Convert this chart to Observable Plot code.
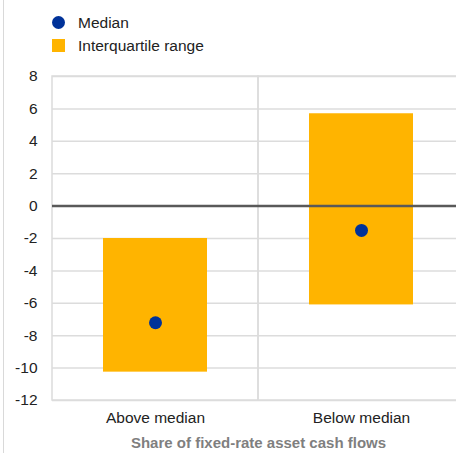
<!DOCTYPE html>
<html>
<head>
<meta charset="utf-8">
<script src="https://cdn.jsdelivr.net/npm/d3@7"></script>
<script src="https://cdn.jsdelivr.net/npm/@observablehq/plot@0.6"></script>
<style>
  html, body { margin: 0; padding: 0; background: #fff; overflow: hidden; }
  #wrap { position: relative; width: 456px; height: 453px; overflow: hidden; font-family: "Liberation Sans", Arial, sans-serif; }
  #border { position: absolute; left: 3px; top: 0; width: 1px; height: 453px; background: #d9d9d9; }
  #legend { position: relative; height: 62px; }
  .item { position: absolute; left: 52px; font-size: 15.5px; color: #222; }
  .sw { position: absolute; width: 13px; height: 13px; }
  .lab { position: absolute; left: 26px; white-space: nowrap; line-height: 15px; }
  #chart { position: absolute; top: 62px; left: 0; width: 464px; }
  #chart svg { max-width: none !important; }
</style>
</head>
<body>
<div id="wrap">
  <div id="border"></div>
  <div id="legend"></div>
  <div id="chart"></div>
</div>
<script>
const categories = ["Above median", "Below median"];
const q1 = [-10.25, -6.1];
const q3 = [-2.0, 5.7];
const median = [-7.2, -1.5];
const yTicks = [8, 6, 4, 2, 0, -2, -4, -6, -8, -10, -12];
const legendLabels = ["Median", "Interquartile range"];
const xTitle = "Share of fixed-rate asset cash flows";

const colors = { median: "#003299", iqr: "#ffb400" };

const data = categories.map((c, i) => ({ cat: c, q1: q1[i], q3: q3[i], median: median[i] }));

// Legend
const legend = document.getElementById("legend");
legend.innerHTML = `
  <div class="item" style="top:15px">
    <div class="sw" style="left:0;top:1px;width:13px;height:13px;border-radius:50%;background:${colors.median}"></div>
    <div class="lab" style="top:0">${legendLabels[0]}</div>
  </div>
  <div class="item" style="top:38px">
    <div class="sw" style="left:0;top:1px;background:${colors.iqr}"></div>
    <div class="lab" style="top:0">${legendLabels[1]}</div>
  </div>`;

const chart = Plot.plot({
  width: 464,
  height: 391,
  marginTop: 14,
  marginBottom: 53,
  marginLeft: 52,
  marginRight: 0,
  style: { fontFamily: "'Liberation Sans', Arial, sans-serif", fontSize: "15.5px", color: "#222", background: "transparent", maxWidth: "none" },
  x: { domain: categories, padding: 0, label: null, tickSize: 0, tickPadding: 11 },
  y: { domain: [-12, 8], ticks: yTicks, tickSize: 0, tickPadding: 14, label: null },
  marks: [
    Plot.ruleY(yTicks, { stroke: "#dcdcdc", strokeWidth: 1.5 }),
    Plot.cell(categories, { x: d => d, fill: "none", stroke: "#dcdcdc", strokeWidth: 1.5, inset: 0 }),
    Plot.barY(data, { x: "cat", y1: "q1", y2: "q3", fill: colors.iqr, insetLeft: 51, insetRight: 51 }),
    Plot.ruleY([0], { stroke: "#595959", strokeWidth: 2.5 }),
    Plot.dot(data, { x: "cat", y: "median", r: 6.5, fill: colors.median, stroke: "none" }),
    Plot.axisY({ ticks: yTicks, tickSize: 0, tickPadding: 15, tickFormat: d => String(d), fontSize: 15.5 }),
    Plot.axisX({ tickSize: 0, tickPadding: 11, fontSize: 15.5, label: null }),
    Plot.text([xTitle], { frameAnchor: "bottom", dy: 47, fontWeight: "bold", fill: "#7f7f7f", fontSize: 15 })
  ]
});
document.getElementById("chart").appendChild(chart);
</script>
</body>
</html>
